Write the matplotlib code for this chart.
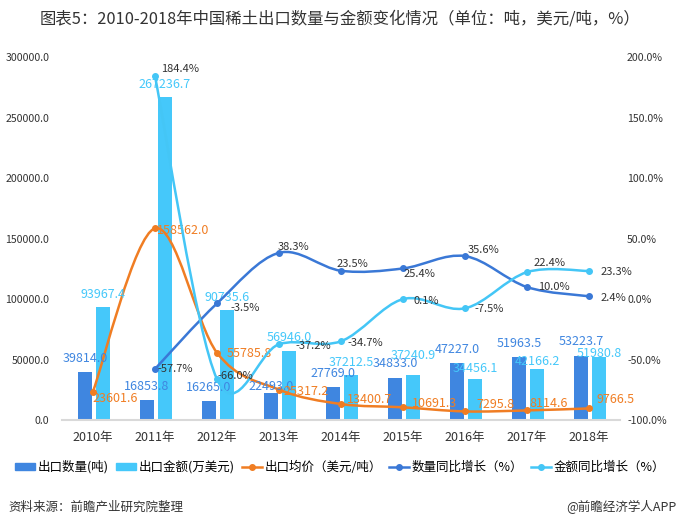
import numpy as np
import matplotlib
matplotlib.use("Agg")
import matplotlib.pyplot as plt
from matplotlib.path import Path
from matplotlib.patches import PathPatch, Patch
from matplotlib.lines import Line2D

plt.rcParams['font.family'] = ['Noto Sans CJK SC', 'DejaVu Sans']

years = ["2010年", "2011年", "2012年", "2013年", "2014年", "2015年", "2016年", "2017年", "2018年"]
qty = [39814.0, 16853.8, 16265.0, 22493.0, 27769.0, 34833.0, 47227.0, 51963.5, 53223.7]
amount = [93967.4, 267236.7, 90735.6, 56946.0, 37212.5, 37240.9, 34456.1, 42166.2, 51980.8]
price = [23601.6, 158562.0, 55785.8, 25317.2, 13400.7, 10691.3, 7295.8, 8114.6, 9766.5]
qty_yoy = [None, -57.7, -3.5, 38.3, 23.5, 25.4, 35.6, 10.0, 2.4]
amt_yoy = [None, 184.4, -66.0, -37.2, -34.7, 0.1, -7.5, 22.4, 23.3]

C_QTY = "#3f86e0"
C_AMT = "#45c8fa"
C_PRICE = "#f07d23"
C_QYOY = "#3a78d6"
C_AYOY = "#44c6f6"
C_TXT = "#333333"


def smooth_path(xs, ys, k=1 / 6):
    # catmull-rom style bezier through the given points
    pts = np.column_stack([xs, ys])
    verts = [pts[0]]
    codes = [Path.MOVETO]
    n = len(pts)
    for i in range(n - 1):
        p0 = pts[i - 1] if i > 0 else pts[i]
        p1, p2 = pts[i], pts[i + 1]
        p3 = pts[i + 2] if i + 2 < n else pts[i + 1]
        verts += [p1 + (p2 - p0) * k, p2 - (p3 - p1) * k, p2]
        codes += [Path.CURVE4] * 3
    return Path(verts, codes)


fig = plt.figure(figsize=(6.8, 5.24), dpi=100)
ax = fig.add_axes([0.091, 0.198, 0.821, 0.693])
ax2 = ax.twinx()

x = np.arange(len(years))
w = 0.22
ax.bar(x - 0.13, qty, w, color=C_QTY, zorder=2)
ax.bar(x + 0.16, amount, w, color=C_AMT, zorder=2)

# price line on left axis
ax.add_patch(PathPatch(smooth_path(x, price), fc="none", ec=C_PRICE, lw=1.8, zorder=3))
ax.plot(x, price, "o", color=C_PRICE, ms=4, zorder=4)

ax.set_xlim(-0.5, len(years) - 0.5)
ax.set_ylim(0, 300000)
ax.set_yticks(np.arange(0, 300001, 50000))
ax.set_yticklabels([f"{v:.1f}" for v in np.arange(0, 300001, 50000)])
ax2.set_ylim(-100, 200)
ax2.set_yticks(np.arange(-100, 201, 50))
ax2.set_yticklabels([f"{v:.1f}%" for v in np.arange(-100, 201, 50)])

for a in (ax, ax2):
    for s in a.spines.values():
        s.set_visible(False)
    a.tick_params(length=0, labelsize=7.6, colors=C_TXT)
ax.spines["bottom"].set_visible(True)
ax.spines["bottom"].set_color("#d9d9d9")
ax.spines["bottom"].set_linewidth(1.5)
ax.set_xticks(x)
ax.set_xticklabels(years, fontsize=9)
ax.tick_params(axis="x", pad=8)
ax.tick_params(axis="y", pad=9)
ax2.tick_params(pad=5)

# growth lines on right axis
xq = x[1:]
qy = qty_yoy[1:]
ay = amt_yoy[1:]
ax2.add_patch(PathPatch(smooth_path(xq, qy), fc="none", ec=C_QYOY, lw=1.8, zorder=3))
ax2.plot(xq, qy, "o", color=C_QYOY, ms=4, zorder=4)
ax2.add_patch(PathPatch(smooth_path(xq, ay), fc="none", ec=C_AYOY, lw=1.8, zorder=3))
ax2.plot(xq, ay, "o", color=C_AYOY, ms=4, zorder=4)

# data labels (offsets in pixels)
qty_dy = [7, 7, 7, 0, 7, 8, 7, 7, 8]
amt_dy = [6, 6, 6, 7, 6, 13, 4, 1, -3]
price_off = [(0, -7), (2, -2), (10, -1), (4, -2), (6, 5), (9, 4), (11, 7), (2, 7), (7, 9)]
for i in x:
    ax.annotate(f"{qty[i]:.1f}", (i - 0.13, qty[i]), xytext=(0, qty_dy[i]), textcoords="offset pixels",
                ha="center", va="bottom", color=C_QTY, fontsize=9, zorder=6)
    ax.annotate(f"{amount[i]:.1f}", (i + 0.16, amount[i]), xytext=(0, amt_dy[i]), textcoords="offset pixels",
                ha="center", va="bottom", color=C_AMT, fontsize=9, zorder=6)
    ax.annotate(f"{price[i]:.1f}", (i, price[i]), xytext=price_off[i], textcoords="offset pixels",
                ha="left", va="center", color=C_PRICE, fontsize=9, zorder=6)

q_off = [(3, 0), (14, -5), (-1, 6), (-4, 7), (0, -6), (3, 6), (11, 0), (11, -2)]
for (i, v), off in zip(zip(xq, qy), q_off):
    ax2.annotate(f"{v:.1f}%", (i, v), xytext=off, textcoords="offset pixels",
                 ha="left", va="center", color=C_TXT, fontsize=8, zorder=6)
a_off = [(6, 7), (1, 3), (16, -2), (6, -2), (10, -2), (9, -1), (6, 9), (11, -1)]
for (i, v), off in zip(zip(xq, ay), a_off):
    ax2.annotate(f"{v:.1f}%", (i, v), xytext=off, textcoords="offset pixels",
                 ha="left", va="center", color=C_TXT, fontsize=8, zorder=6)

fig.text(0.5, 0.964, "图表5：2010-2018年中国稀土出口数量与金额变化情况（单位：吨，美元/吨，%）",
         ha="center", va="center", fontsize=11.8, color=C_TXT)

handles = [
    Patch(color=C_QTY),
    Patch(color=C_AMT),
    Line2D([], [], color=C_PRICE, lw=1.8, marker="o", ms=4),
    Line2D([], [], color=C_QYOY, lw=1.8, marker="o", ms=4),
    Line2D([], [], color=C_AYOY, lw=1.8, marker="o", ms=4),
]
labels = ["出口数量(吨)", "出口金额(万美元)", "出口均价（美元/吨）", "数量同比增长（%）", "金额同比增长（%）"]
fig.legend(handles, labels, loc="center", bbox_to_anchor=(0.5, 0.109), ncol=5, frameon=False,
           fontsize=9, handlelength=1.6, handleheight=0.5, handletextpad=0.2, columnspacing=0.6)

fig.text(0.012, 0.032, "资料来源：前瞻产业研究院整理", ha="left", va="center", fontsize=9,
         style="italic", color=C_TXT)
fig.text(0.995, 0.032, "@前瞻经济学人APP", ha="right", va="center", fontsize=9, color=C_TXT)

fig.savefig("out.png", dpi=100)
